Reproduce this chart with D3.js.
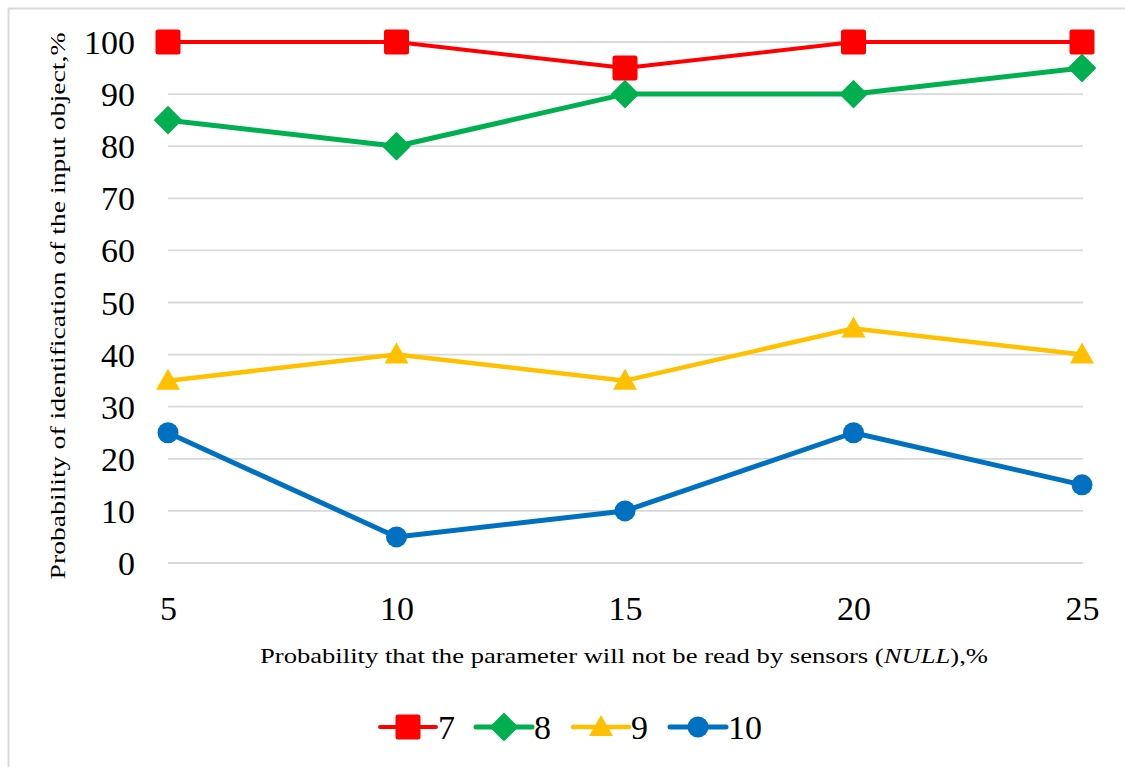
<!DOCTYPE html>
<html>
<head>
<meta charset="utf-8">
<script src="https://cdn.jsdelivr.net/npm/d3@7"></script>
<style>
  html, body { margin: 0; padding: 0; background: #fff; }
  svg { display: block; }
  svg text { font-family: "Liberation Serif", "Times New Roman", Tinos, serif; }
</style>
</head>
<body>
<svg id="chart" width="1125" height="767"></svg>
<script>
// Categories on the x axis: probability of a NULL reading, %
const categories = [5, 10, 15, 20, 25];
// Identification probability, % — one series per number of parameters
const series7 = [100, 100, 95, 100, 100];
const series8 = [85, 80, 90, 90, 95];
const series9 = [35, 40, 35, 45, 40];
const series10 = [25, 5, 10, 25, 15];
const seriesNames = ["7", "8", "9", "10"];
const yTicks = [0, 10, 20, 30, 40, 50, 60, 70, 80, 90, 100];

const seriesList = [
  { name: seriesNames[0], values: series7,  color: "#FF0000", width: 4, symbol: "square" },
  { name: seriesNames[1], values: series8,  color: "#00B050", width: 5, symbol: "diamond" },
  { name: seriesNames[2], values: series9,  color: "#FFC000", width: 4.5, symbol: "triangle" },
  { name: seriesNames[3], values: series10, color: "#0070C0", width: 5, symbol: "circle" }
];

const svg = d3.select("#chart");

// Chart area frame
svg.append("rect")
  .attr("x", 8.5).attr("y", 8.5)
  .attr("width", 1140).attr("height", 780)
  .attr("fill", "#fff").attr("stroke", "#d9d9d9").attr("stroke-width", 2);

const x = d3.scalePoint().domain(categories).range([168, 1082]);
const y = d3.scaleLinear().domain([0, 100]).range([563, 42]);

// Horizontal gridlines
svg.append("g")
  .selectAll("line")
  .data(yTicks)
  .join("line")
  .attr("x1", 168).attr("x2", 1083)
  .attr("y1", d => y(d)).attr("y2", d => y(d))
  .attr("stroke", "#d9d9d9").attr("stroke-width", 1.8);

// Y axis labels
const yAxis = d3.axisLeft(y).tickValues(yTicks).tickSize(0).tickPadding(0);
svg.append("g")
  .attr("transform", "translate(135,0)")
  .call(yAxis)
  .attr("font-family", null)
  .call(g => g.select(".domain").remove())
  .selectAll("text")
  .attr("font-size", 34).attr("fill", "#000")
  .attr("dy", "0.34em");

// X axis labels
const xAxis = d3.axisBottom(x).tickSize(0).tickPadding(0);
svg.append("g")
  .attr("transform", "translate(0,596)")
  .call(xAxis)
  .attr("font-family", null)
  .call(g => g.select(".domain").remove())
  .selectAll("text")
  .attr("font-size", 34).attr("fill", "#000")
  .attr("dy", "0.7em");

// Axis titles
svg.append("text")
  .attr("transform", "translate(65,306) rotate(-90)")
  .attr("text-anchor", "middle")
  .attr("font-size", 22).attr("fill", "#000")
  .attr("textLength", 547).attr("lengthAdjust", "spacingAndGlyphs")
  .text("Probability of identification of the input object,%");

const xt = svg.append("text")
  .attr("x", 624).attr("y", 663)
  .attr("text-anchor", "middle")
  .attr("font-size", 22).attr("fill", "#000")
  .attr("textLength", 728).attr("lengthAdjust", "spacingAndGlyphs");
xt.append("tspan").text("Probability that the parameter will not be read by sensors (");
xt.append("tspan").attr("font-style", "italic").text("NULL");
xt.append("tspan").text("),%");

// Marker drawing
function drawMarker(g, symbol, color, cx, cy) {
  if (symbol === "square") {
    g.append("rect").attr("x", cx - 12.5).attr("y", cy - 12.5)
      .attr("width", 25).attr("height", 25).attr("rx", 2.5)
      .attr("fill", color);
  } else if (symbol === "diamond") {
    g.append("path")
      .attr("d", `M${cx},${cy - 13}L${cx + 13},${cy}L${cx},${cy + 13}L${cx - 13},${cy}Z`)
      .attr("fill", color).attr("stroke", color).attr("stroke-width", 2).attr("stroke-linejoin", "round");
  } else if (symbol === "triangle") {
    g.append("path")
      .attr("d", `M${cx},${cy - 12}L${cx + 12},${cy + 9}L${cx - 12},${cy + 9}Z`)
      .attr("fill", color);
  } else {
    g.append("circle").attr("cx", cx).attr("cy", cy).attr("r", 10.5).attr("fill", color);
  }
}

const line = d3.line()
  .x((d, i) => x(categories[i]))
  .y(d => y(d));

// Draw in reverse so the first series ends up on top
seriesList.slice().reverse().forEach(s => {
  const g = svg.append("g");
  g.append("path")
    .attr("d", line(s.values))
    .attr("fill", "none")
    .attr("stroke", s.color)
    .attr("stroke-width", s.width)
    .attr("stroke-linejoin", "round");
  s.values.forEach((v, i) => drawMarker(g, s.symbol, s.color, x(categories[i]), y(v)));
});

// Legend
const legendX = [380, 476, 573, 670];
const legendY = 727;
seriesList.forEach((s, i) => {
  const g = svg.append("g");
  const x0 = legendX[i];
  g.append("line")
    .attr("x1", x0).attr("x2", x0 + 56)
    .attr("y1", legendY).attr("y2", legendY)
    .attr("stroke", s.color).attr("stroke-width", s.width).attr("stroke-linecap", "round");
  drawMarker(g, s.symbol, s.color, x0 + 28, legendY);
  g.append("text")
    .attr("x", x0 + 58).attr("y", legendY)
    .attr("dy", "0.34em")
    .attr("font-size", 34).attr("fill", "#000")
    .text(s.name);
});
</script>
</body>
</html>
